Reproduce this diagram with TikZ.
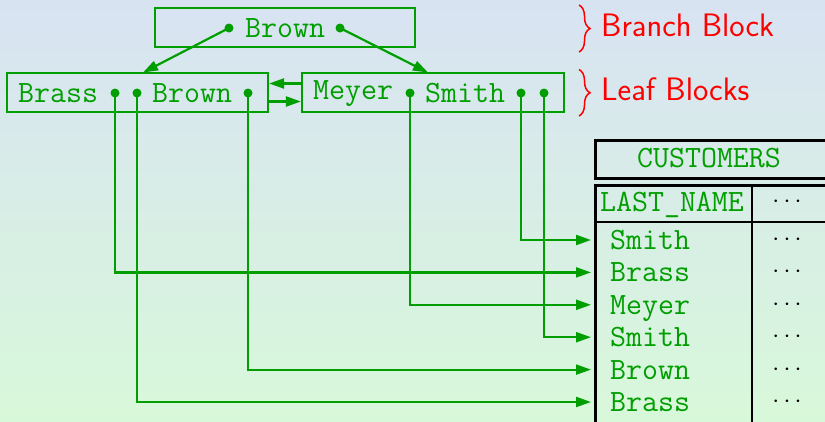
\documentclass[tikz,border=0pt]{standalone}
\usetikzlibrary{arrows.meta,decorations.pathreplacing}
\definecolor{tgreen}{RGB}{0,158,0}
\definecolor{bgtop}{RGB}{216,227,242}
\definecolor{bgbot}{RGB}{216,248,218}
\begin{document}
\begin{tikzpicture}[x=1pt,y=-1pt,
  tt/.style={font=\ttfamily\fontsize{31}{36}\selectfont, text=tgreen, inner sep=0pt, anchor=base west},
  lbl/.style={font=\sffamily\fontsize{32.5}{38}\selectfont, text=red, inner sep=0pt, anchor=base west},
  blk/.style={draw=tgreen, line width=2.2pt, inner sep=0pt},
  dot/.style={circle, fill=tgreen, inner sep=0pt, minimum size=9pt},
  conn/.style={draw=tgreen, line width=2.2pt, -{Triangle[length=15pt,width=10pt]}},
  tline/.style={draw=black, line width=2.7pt},
  dd/.style={font=\fontsize{30}{36}\selectfont, inner sep=0pt}
]
\useasboundingbox (0,0) rectangle (825,421);
\shade[top color=bgtop, bottom color=bgbot] (0,0) rectangle (825,421);
\clip (0,0) rectangle (825,421);

% blocks
\node[blk, minimum width=260pt, minimum height=39pt] (branch) at (285,27.5) {};
\node[blk, minimum width=261pt, minimum height=39pt] (leafa) at (137.5,92.5) {};
\node[blk, minimum width=262pt, minimum height=39pt] (leafb) at (433,92.5) {};

% texts in blocks
\node[tt] (tbr) at (245,37) {Brown};
\node[tt] (tla1) at (18,102) {Brass};
\node[tt] (tla2) at (152,102) {Brown};
\node[tt] (tlb1) at (313,99.5) {Meyer};
\node[tt] (tlb2) at (425,102) {Smith};

% dots
\node[dot] (bd1) at (229,28) {};
\node[dot] (bd2) at (340,28) {};
\node[dot] (la1) at (115,93) {};
\node[dot] (la2) at (137,93) {};
\node[dot] (la3) at (248,93) {};
\node[dot] (lb1) at (410,93) {};
\node[dot] (lb2) at (521,93) {};
\node[dot] (lb3) at (544,93) {};

% branch to leaves
\coordinate (ta) at (143,72.5);
\coordinate (tb) at (428,72.5);
\draw[conn] (bd1.center) -- (ta);
\draw[conn] (bd2.center) -- (tb);

% sibling links
\draw[conn] (leafb.west |- 0,83.5) -- (leafa.east |- 0,83.5);
\draw[conn] (leafa.east |- 0,101.5) -- (leafb.west |- 0,101.5);

% braces and labels
\draw[red, line width=1.5pt, decorate, decoration={brace, amplitude=11pt}] (579,5) -- (579,52);
\draw[red, line width=1.5pt, decorate, decoration={brace, amplitude=11pt}] (579,69.5) -- (579,116);
\node[lbl] (lbranch) at (601,36) {Branch Block};
\node[lbl] (lleaf) at (601,100.5) {Leaf Blocks};

% table
\node[tline, minimum width=240pt, minimum height=38pt, inner sep=0pt, anchor=north west] (cust) at (594,139) {};
\node[tt] (custt) at (637,167) {CUSTOMERS};
\node[tline, minimum width=240pt, minimum height=250pt, inner sep=0pt, anchor=north west] (tab) at (594,184) {};
\coordinate (hl) at (594,222);
\coordinate (cv) at (752,184);
\draw[tline] (hl) -- (hl -| tab.east);
\draw[tline] (cv) -- (cv |- tab.south);
\node[tt] (hname) at (600,211) {LAST\_NAME};
\node[dd] (hdots) at (787,202) {$\cdots$};

% rows
\foreach \i/\n/\yy in {1/Smith/240, 2/Brass/272.4, 3/Meyer/304.8, 4/Smith/337.2, 5/Brown/369.6, 6/Brass/402}{
  \node[tt] (r\i) at (610,\yy+9.5) {\n};
  \node[dd] (rd\i) at (787,\yy) {$\cdots$};
  \coordinate (a\i) at (591,\yy);
}

% pointers to rows
\draw[conn] (lb2.center) |- (a1);
\draw[conn] (la1.center) |- (a2);
\draw[conn] (lb1.center) |- (a3);
\draw[conn] (lb3.center) |- (a4);
\draw[conn] (la3.center) |- (a5);
\draw[conn] (la2.center) |- (a6);
\end{tikzpicture}
\end{document}
